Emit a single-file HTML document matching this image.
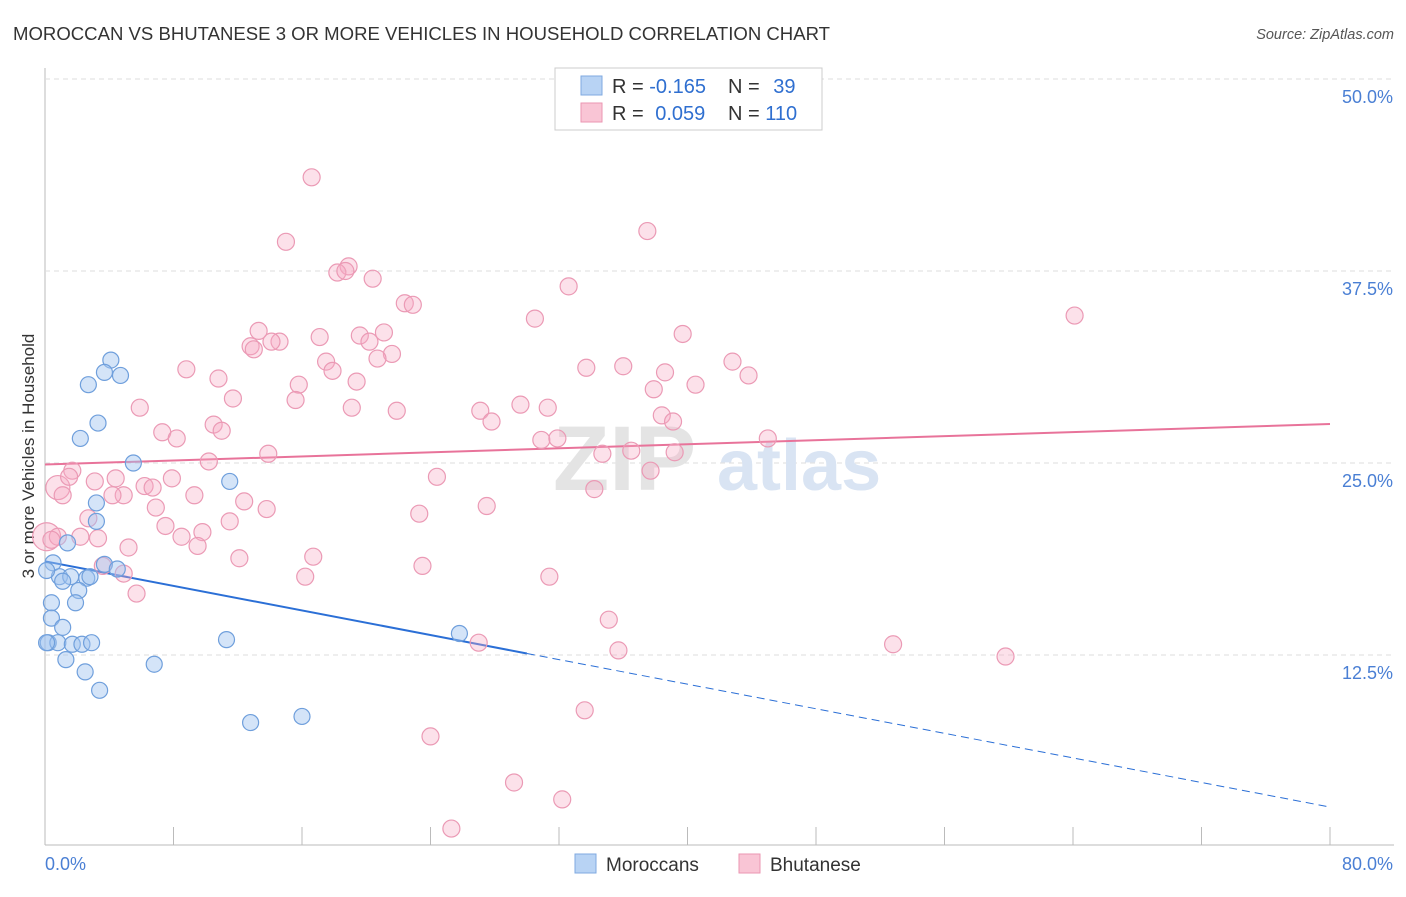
<!DOCTYPE html>
<html><head><meta charset="utf-8"><style>
body{margin:0;background:#fff;font-family:"Liberation Sans",sans-serif;}
svg text{font-family:"Liberation Sans",sans-serif;}
</style></head><body>
<svg id="chart" width="1406" height="892" xmlns="http://www.w3.org/2000/svg">
<text x="13" y="40" font-size="18" fill="#333" textLength="817" lengthAdjust="spacingAndGlyphs">MOROCCAN VS BHUTANESE 3 OR MORE VEHICLES IN HOUSEHOLD CORRELATION CHART</text>
<text x="1394" y="39" font-size="14.5" fill="#555" font-style="italic" text-anchor="end">Source: ZipAtlas.com</text>
<g id="grid"></g>
<g><text x="553" y="490" font-size="92" fill="#e4e4e4" font-family="Liberation Serif" font-weight="bold">ZIP</text><text x="717" y="490" font-size="72" fill="#d9e4f3" font-weight="bold">atlas</text></g>
<text transform="translate(34,456) rotate(-90)" font-size="17" fill="#333" text-anchor="middle">3 or more Vehicles in Household</text>
<g id="lines"></g>
<g id="pts"></g>
<g>
<rect x="555" y="68" width="267" height="62" fill="#fff" stroke="#ccc"/>
<rect x="581" y="76" width="21" height="19" fill="#b8d3f4" stroke="#7fa9e0"/>
<rect x="581" y="103" width="21" height="19" fill="#f9c5d5" stroke="#eb96b2"/>
<text x="612" y="93" font-size="20" fill="#333">R = <tspan fill="#2f6fd0">-0.165</tspan></text>
<text x="728" y="93" font-size="20" fill="#333">N = <tspan fill="#2f6fd0" dx="8">39</tspan></text>
<text x="612" y="120" font-size="20" fill="#333">R = <tspan fill="#2f6fd0" dx="6">0.059</tspan></text>
<text x="728" y="120" font-size="20" fill="#333">N = <tspan fill="#2f6fd0">110</tspan></text>
</g>
<g>
<rect x="575" y="854" width="21" height="19" fill="#b8d3f4" stroke="#7fa9e0"/>
<text x="606" y="871" font-size="19" fill="#333">Moroccans</text>
<rect x="739" y="854" width="21" height="19" fill="#f9c5d5" stroke="#eb96b2"/>
<text x="770" y="871" font-size="19" fill="#333">Bhutanese</text>
</g>
<text x="45" y="870" font-size="18" fill="#4a7fd4">0.0%</text>
<text x="1393" y="870" font-size="18" fill="#4a7fd4" text-anchor="end">80.0%</text>
</svg>
<script>
const blueX=[4.1,3.7,4.7,2.7,3.3,2.2,5.5,11.5,3.2,3.2,1.4,0.5,3.7,4.5,0.9,1.6,2.6,2.8,1.1,2.1,0.4,1.9,0.4,1.1,0.2,0.8,1.7,2.3,2.9,11.3,25.8,1.3,6.8,2.5,3.4,12.8,16.0,0.1,0.1];
const blueY=[31.7,30.9,30.7,30.1,27.6,26.6,25.0,23.8,22.4,21.2,19.8,18.5,18.4,18.1,17.6,17.6,17.5,17.6,17.3,16.7,15.9,15.9,14.9,14.3,13.3,13.3,13.2,13.2,13.3,13.5,13.9,12.2,11.9,11.4,10.2,8.1,8.5,18.0,13.3];
const pinkX=[0.1,0.8,16.6,37.5,15.0,18.9,18.2,18.7,20.4,32.6,22.4,22.9,64.1,30.5,13.3,21.1,17.1,19.6,39.7,14.6,20.2,12.8,13.0,14.1,21.6,20.7,17.5,42.8,33.7,36.0,8.8,17.9,38.6,43.8,10.8,19.4,15.8,40.5,37.9,11.7,15.6,5.9,29.6,31.3,27.1,21.9,19.1,38.4,27.8,39.1,10.5,11.0,7.3,8.2,30.9,31.9,45.0,13.9,34.7,36.5,39.2,10.2,1.7,37.7,24.4,1.5,7.9,3.1,4.4,6.2,6.7,34.2,4.9,1.1,4.2,9.3,12.4,6.9,27.5,13.8,23.3,2.7,11.5,7.5,8.5,9.8,2.2,3.3,0.8,0.4,5.2,16.7,12.1,9.5,3.6,4.9,16.2,31.4,23.5,5.7,35.1,27.0,52.8,35.7,59.8,33.6,24.0,29.2,32.2,25.3];
const pinkY=[20.2,23.4,43.6,40.1,39.4,37.8,37.4,37.5,37.0,36.5,35.4,35.3,34.6,34.4,33.6,33.5,33.2,33.3,33.4,32.9,32.9,32.6,32.4,32.9,32.1,31.8,31.6,31.6,31.2,31.3,31.1,31.0,30.9,30.7,30.5,30.3,30.1,30.1,29.8,29.2,29.1,28.6,28.8,28.6,28.4,28.4,28.6,28.1,27.7,27.7,27.5,27.1,27.0,26.6,26.5,26.6,26.6,25.6,25.6,25.8,25.7,25.1,24.5,24.5,24.1,24.1,24.0,23.8,24.0,23.5,23.4,23.3,22.9,22.9,22.9,22.9,22.5,22.1,22.2,22.0,21.7,21.4,21.2,20.9,20.2,20.5,20.2,20.1,20.2,20.0,19.5,18.9,18.8,19.6,18.3,17.8,17.6,17.6,18.3,16.5,14.8,13.3,13.2,12.8,12.4,8.9,7.2,4.2,3.1,1.2];
const pinkR=[14,12];
const yTicks=[12.5,25.0,37.5,50.0];
const xTicks=[0,8,16,24,32,40,48,56,64,72,80];
const blueTrend=[18.6,-0.2];
const pinkTrend=[24.9,0.033];
const blueSolidEnd=30;
const NS="http://www.w3.org/2000/svg";
const X0=45,X1=1330,YB=847,PX=192/12.5;
const sx=v=>X0+(X1-X0)*v/80, sy=v=>YB-v*PX;
function mk(tag,attrs,parent){const e=document.createElementNS(NS,tag);for(const k in attrs)e.setAttribute(k,attrs[k]);parent.appendChild(e);return e;}
const grid=document.getElementById('grid'),lines=document.getElementById('lines'),pts=document.getElementById('pts');
const ax=mk('line',{x1:X0,y1:68,x2:X0,y2:845,stroke:'#bbb'},grid);


const bx=mk('line',{x1:X0,y1:845,x2:1394,y2:845,stroke:'#bbb'},grid);


yTicks.forEach(t=>{
 const g=mk('line',{x1:X0,y1:sy(t),x2:1394,y2:sy(t),stroke:'#ddd','stroke-dasharray':'5,4'},grid);
 
 
 const l=mk('text',{x:1393,y:sy(t)+24,'font-size':18,fill:'#4a7fd4','text-anchor':'end'},grid);
 l.textContent=t.toFixed(1)+'%';
 
 
});
xTicks.forEach(t=>{
 const k=mk('line',{x1:sx(t),y1:827,x2:sx(t),y2:845,stroke:'#bbb'},grid);
 
 
});
const bt=v=>blueTrend[0]+blueTrend[1]*v, pt=v=>pinkTrend[0]+pinkTrend[1]*v;
const l1=mk('line',{x1:sx(0),y1:sy(bt(0)),x2:sx(blueSolidEnd),y2:sy(bt(blueSolidEnd)),stroke:'#2b6fd6','stroke-width':2},lines);


const l2=mk('line',{x1:sx(blueSolidEnd),y1:sy(bt(blueSolidEnd)),x2:sx(80),y2:sy(bt(80)),stroke:'#2b6fd6','stroke-width':1,'stroke-dasharray':'8,5'},lines);


const l3=mk('line',{x1:sx(0),y1:sy(pt(0)),x2:sx(80),y2:sy(pt(80)),stroke:'#e8739a','stroke-width':2},lines);


pinkX.forEach((x,i)=>{
 const c=mk('circle',{cx:sx(x),cy:sy(pinkY[i]),r:pinkR[i]||8.5,fill:'rgba(246,170,196,0.35)',stroke:'#eb9ab5','stroke-width':1.2},pts);
 
 
});
blueX.forEach((x,i)=>{
 const c=mk('circle',{cx:sx(x),cy:sy(blueY[i]),r:8,fill:'rgba(160,195,240,0.45)',stroke:'#6f9fdc','stroke-width':1.2},pts);
 
 
});
</script>
</body></html>
